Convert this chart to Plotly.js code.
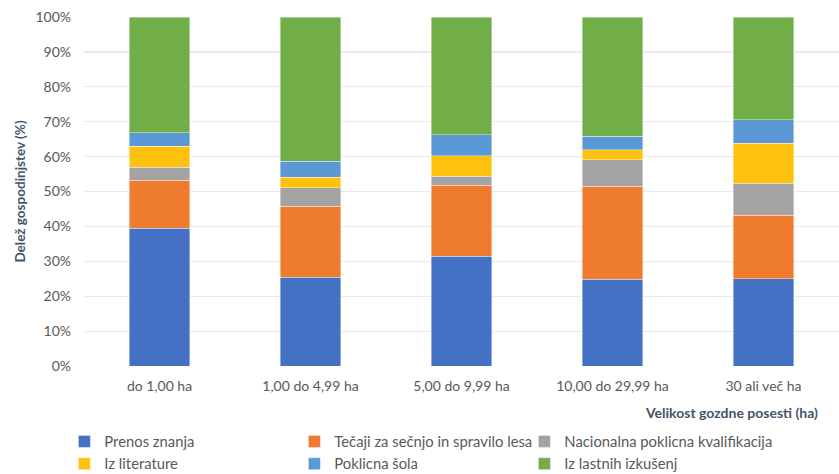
<!DOCTYPE html>
<html>
<head>
<meta charset="utf-8">
<script src="https://cdn.plot.ly/plotly-3.0.1.min.js"></script>
<style>html,body{margin:0;padding:0;background:#fff;}#chart{width:839px;height:474px;}</style>
</head>
<body>
<div id="chart"></div>
<script>
const categories = ["do 1,00 ha", "1,00 do 4,99 ha", "5,00 do 9,99 ha", "10,00 do 29,99 ha", "30 ali več ha"];
const prenosZnanja = [39.4, 25.4, 31.4, 24.8, 25.0];
const tecaji = [13.8, 20.4, 20.4, 26.7, 18.2];
const nacionalna = [3.7, 5.3, 2.5, 7.6, 9.2];
const izLiterature = [6.1, 3.0, 6.0, 2.9, 11.4];
const poklicnaSola = [3.8, 4.5, 5.9, 3.8, 6.7];
const izkusnje = [33.2, 41.4, 33.8, 34.2, 29.5];
const seriesNames = ["Prenos znanja", "Tečaji za sečnjo in spravilo lesa", "Nacionalna poklicna kvalifikacija", "Iz literature", "Poklicna šola", "Iz lastnih izkušenj"];
const seriesValues = [prenosZnanja, tecaji, nacionalna, izLiterature, poklicnaSola, izkusnje];
const colors = ["#4571C4", "#EE7B2E", "#A3A3A3", "#FDC10E", "#5A98D6", "#72AE48"];

const traces = seriesValues.map((v, i) => ({
  type: 'bar', x: categories, y: v, name: seriesNames[i],
  marker: {color: colors[i], line: {color: 'rgba(255,255,255,0.5)', width: 0.8}},
  hoverinfo: 'name+y'
}));

const layout = {
  width: 839, height: 474,
  margin: {l: 84, r: 0, t: 17, b: 108, autoexpand: false},
  barmode: 'stack', bargap: 0.6,
  paper_bgcolor: '#fff', plot_bgcolor: '#fff',
  font: {family: 'Lato, "Open Sans", sans-serif', size: 14, color: '#595959'},
  showlegend: true,
  legend: {orientation: 'h', x: -0.026, xanchor: 'left', y: -0.17, yanchor: 'top',
    entrywidth: 185, entrywidthmode: 'pixels', traceorder: 'normal',
    font: {size: 14.8, color: '#595959'}, itemwidth: 30, tracegroupgap: 0},
  xaxis: {showgrid: false, zeroline: false, showline: false, ticks: '', tickfont: {size: 14}, ticklabelstandoff: 10},
  yaxis: {range: [0, 100], dtick: 10, ticksuffix: '%', gridcolor: '#E8EAEE', gridwidth: 1.2,
    zeroline: false, showline: false, ticklabelstandoff: 12, tickfont: {size: 14},
    title: {text: '<b>Delež gospodinjstev (%)</b>', font: {size: 13.5, color: '#44546A'}, standoff: 6}},
  annotations: [{xref: 'paper', yref: 'paper', x: 0.975, y: -0.103, xanchor: 'right', yanchor: 'top',
    text: '<b>Velikost gozdne posesti (ha)</b>', showarrow: false, font: {size: 14, color: '#44546A'}}]
};
Plotly.newPlot('chart', traces, layout, {displayModeBar: false, staticPlot: true}).then(gd => {
  gd.querySelectorAll('.legend [clip-path]').forEach(el => el.removeAttribute('clip-path'));
});
</script>
</body>
</html>
